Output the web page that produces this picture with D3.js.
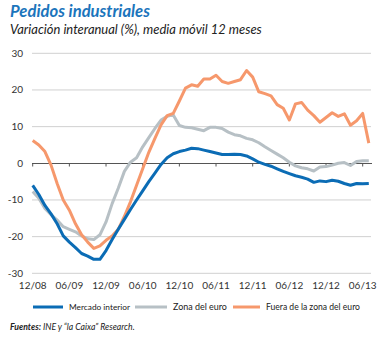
<!DOCTYPE html>
<html><head><meta charset="utf-8">
<script src="https://cdn.jsdelivr.net/npm/d3@7"></script>
<style>html,body{margin:0;padding:0;background:#fff;}svg{display:block;}</style>
</head><body>
<script>
const months = ["12/08","01/09","02/09","03/09","04/09","05/09","06/09","07/09","08/09","09/09","10/09","11/09","12/09",
"01/10","02/10","03/10","04/10","05/10","06/10","07/10","08/10","09/10","10/10","11/10","12/10",
"01/11","02/11","03/11","04/11","05/11","06/11","07/11","08/11","09/11","10/11","11/11","12/11",
"01/12","02/12","03/12","04/12","05/12","06/12","07/12","08/12","09/12","10/12","11/12","12/12",
"01/13","02/13","03/13","04/13","05/13","06/13","07/13"];
const tickLabels = ["12/08","06/09","12/09","06/10","12/10","06/11","12/11","06/12","12/12","06/13"];
const yTicks = [-30,-20,-10,0,10,20,30];
const mercadoInterior = [-6,-8.5,-11.5,-13.8,-16.5,-19.8,-21.5,-23,-24.6,-25.3,-26.2,-26.2,-23.8,-20.8,-18,-15.3,-12.6,-10,-7.5,-5,-2.7,-0.3,1.5,2.6,3.2,3.6,4.1,4,3.6,3.2,2.8,2.4,2.4,2.5,2.4,2,1.2,0.3,-0.3,-0.8,-1.5,-2.2,-2.8,-3.4,-3.8,-4.3,-5.2,-4.8,-5,-4.6,-4.9,-5.5,-6,-5.5,-5.6,-5.5];
const zonaEuro = [-7.7,-9.5,-12.3,-14,-15.5,-17.3,-18,-18.7,-19.8,-20.6,-20.8,-19.5,-16,-11,-6.8,-2.2,0.3,1.5,4.5,7,9.5,11.8,12.8,13.2,10.3,9.8,9.7,9.3,8.9,9.8,9.8,9.5,8.5,7.8,7.5,6.8,6.4,5.6,4.5,3.5,2.5,1.5,0.3,-0.7,-1.2,-1.5,-2.1,-1,-0.9,-0.5,0,0.2,-0.6,0.5,0.7,0.7];
const fueraZonaEuro = [6.2,5,3.2,-0.5,-5.5,-10,-12.8,-16.5,-19.5,-21.5,-23.2,-22.5,-21,-19.8,-18,-14.5,-10.5,-6,-1.5,3,6.8,10.5,13,13.6,17,20.5,21.4,21,23,23,24,22.3,21.8,22.3,22.8,25.3,23.5,19.5,19,18.4,16,15,11.8,16.2,16.6,14.5,13,11.2,12.5,13.8,12.8,13.5,10.4,11.6,13.6,5.5];
const seriesNames = ["Mercado interior","Zona del euro","Fuera de la zona del euro"];
const seriesColors = ["#0b6cb5","#b7c0c5","#f6986c"];

const W = 382, H = 338;
const svg = d3.select("body").append("svg").attr("width", W).attr("height", H)
  .style("font-family", "Lato, 'Open Sans', sans-serif");

function fit(sel, w) {
  const n = sel.node();
  const cur = parseFloat(sel.attr("font-size"));
  const len = n.getComputedTextLength();
  if (len > 0) sel.attr("font-size", (cur * w / len).toFixed(2));
}

// Title & subtitle
const t1 = svg.append("text").attr("x", 10).attr("y", 17).attr("font-size", 15)
  .attr("font-weight", "bold").attr("font-style", "italic").attr("fill", "#1b75bc")
  .text("Pedidos industriales");
fit(t1, 140);
const t2 = svg.append("text").attr("x", 10).attr("y", 34).attr("font-size", 12)
  .attr("font-style", "italic").attr("fill", "#222")
  .text("Variación interanual (%), media móvil 12 meses");
fit(t2, 252);

const x = d3.scalePoint().domain(months).range([32.7, 368.8]);
const y = d3.scaleLinear().domain([-30, 30]).range([273.3, 53.3]);

// gridlines
svg.append("g").selectAll("line").data(yTicks.filter(d => d !== 0)).join("line")
  .attr("x1", 32).attr("x2", 371).attr("y1", d => y(d)).attr("y2", d => y(d))
  .attr("stroke", "#d0d0d0").attr("stroke-width", 1);

// y labels
svg.append("g").selectAll("text").data(yTicks).join("text")
  .attr("x", 23).attr("y", d => y(d) + 3.5).attr("text-anchor", "end")
  .attr("font-size", 10).attr("fill", "#333").text(d => d);

// zero axis
const y0 = Math.round(y(0)) + 0.5;
svg.append("line").attr("x1", 32).attr("x2", 372).attr("y1", y0).attr("y2", y0)
  .attr("stroke", "#555").attr("stroke-width", 1);
svg.append("g").selectAll("line").data(tickLabels).join("line")
  .attr("x1", d => x(d)).attr("x2", d => x(d)).attr("y1", y0).attr("y2", y0 + 3)
  .attr("stroke", "#555").attr("stroke-width", 1);

// x labels
svg.append("g").selectAll("text").data(tickLabels).join("text")
  .attr("x", d => x(d)).attr("y", 289).attr("text-anchor", "middle")
  .attr("font-size", 10).attr("fill", "#333").text(d => d);

// lines
const line = d3.line().x((d, i) => x(months[i])).y(d => y(d)).curve(d3.curveLinear);
const allSeries = [zonaEuro, fueraZonaEuro, mercadoInterior];
const colorOrder = [seriesColors[1], seriesColors[2], seriesColors[0]];
allSeries.forEach((s, k) => {
  svg.append("path").datum(s).attr("d", line).attr("fill", "none")
    .attr("stroke", colorOrder[k]).attr("stroke-width", 3)
    .attr("stroke-linejoin", "round").attr("stroke-linecap", "butt");
});

// legend
const legX = [33, 135, 233];
const legW = [30, 32, 27];
const legTW = [61, 54, 94];
seriesNames.forEach((n, i) => {
  svg.append("line").attr("x1", legX[i]).attr("x2", legX[i] + legW[i]).attr("y1", 307).attr("y2", 307)
    .attr("stroke", seriesColors[i]).attr("stroke-width", 3);
  const t = svg.append("text").attr("x", legX[i] + legW[i] + 6).attr("y", 310.3)
    .attr("font-size", 9.5).attr("fill", "#222").text(n);
  fit(t, legTW[i]);
});

// source
const src = svg.append("text").attr("x", 10).attr("y", 330).attr("font-size", 9)
  .attr("font-style", "italic").attr("fill", "#222");
src.append("tspan").attr("font-weight", "bold").text("Fuentes:");
src.append("tspan").text(" INE y \u201Cla Caixa\u201D Research.");
fit(src, 125);
</script>
</body></html>
